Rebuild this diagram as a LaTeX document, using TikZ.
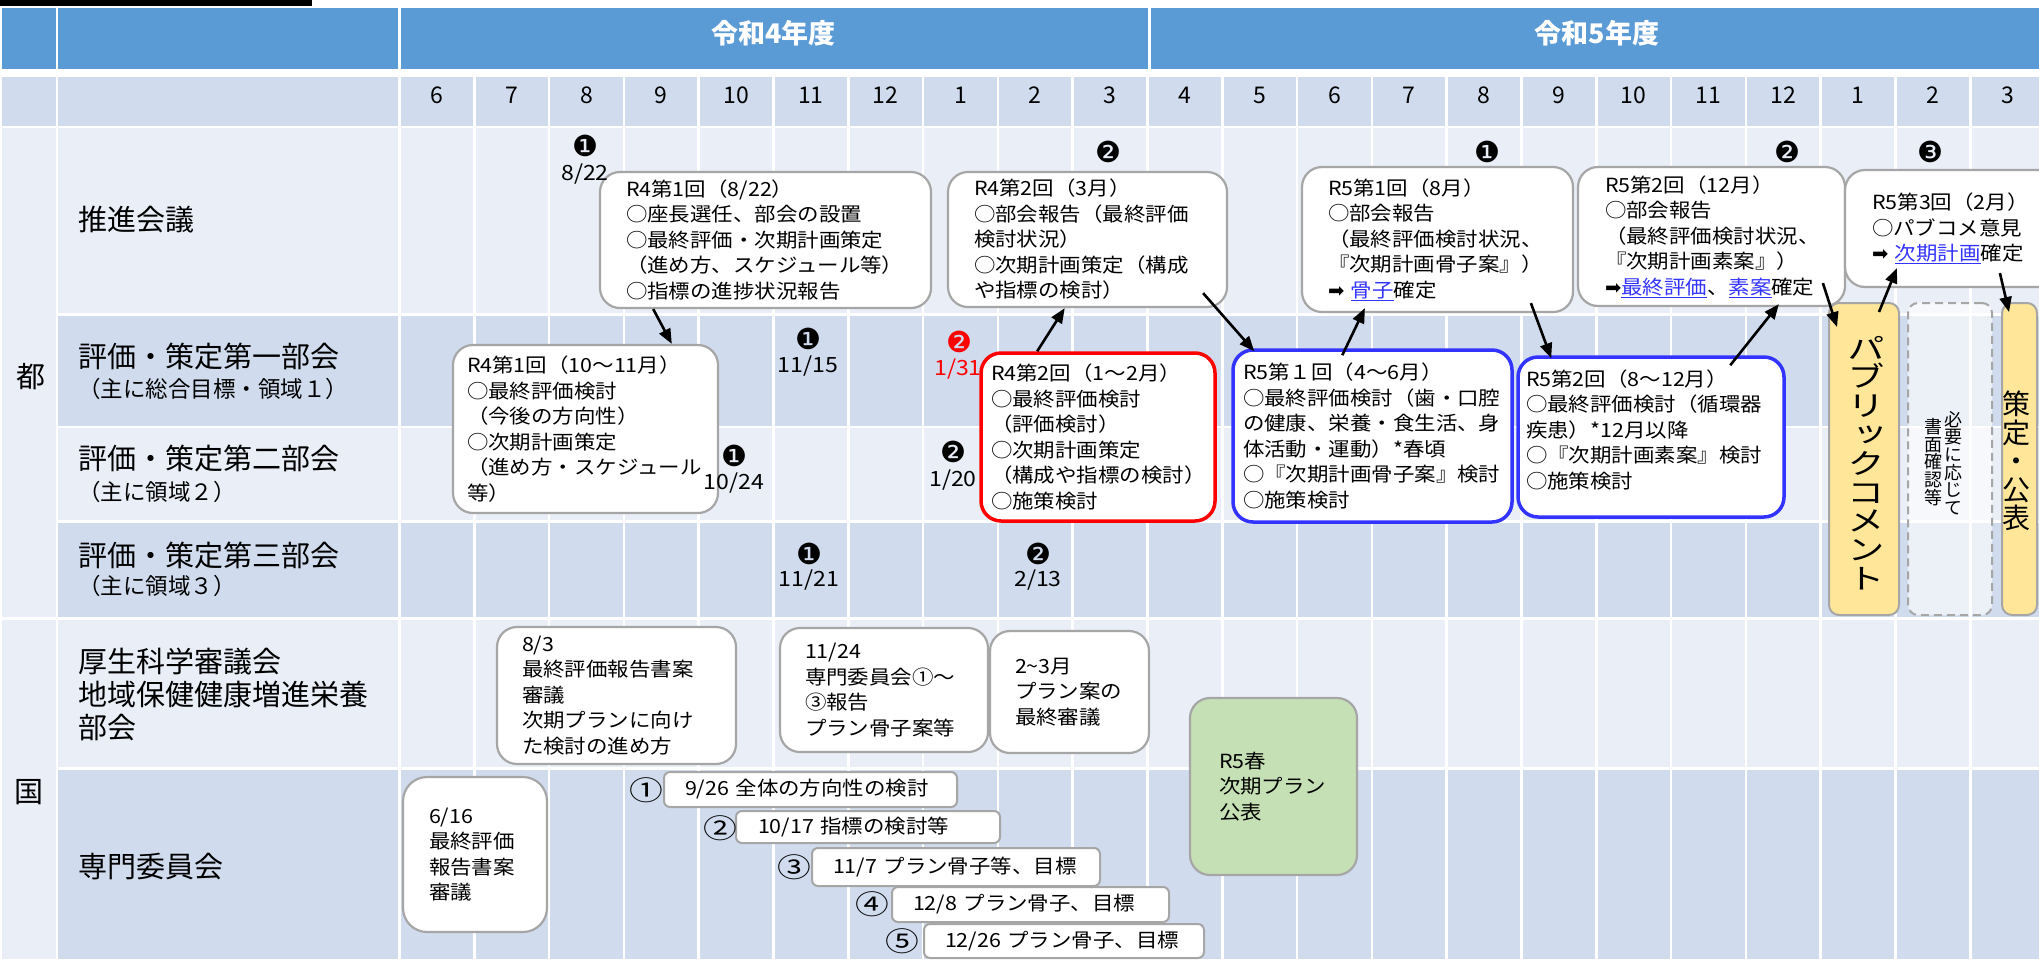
\documentclass[tikz,border=0pt]{standalone}
\usepackage{fontspec}
\setmainfont{Noto Sans CJK JP}
\newfontfamily\jpbox[FakeStretch=1.1]{Noto Sans CJK JP}
\newfontfamily\jpwide[FakeStretch=1.25]{Noto Sans CJK JP}
\newfontfamily\jpvert[RawFeature=+vert]{Noto Sans CJK JP}
\newfontfamily\jpvertw[RawFeature=+vert,FakeStretch=1.3]{Noto Sans CJK JP}
\newfontfamily\dejavu{DejaVu Sans}
\usetikzlibrary{arrows.meta,calc}
\definecolor{hdr}{HTML}{5B9BD5}
\definecolor{bandD}{HTML}{D0DCEE}
\definecolor{bandL}{HTML}{E9EEF7}
\definecolor{bgray}{HTML}{A6A6A6}
\definecolor{linkb}{HTML}{3333FF}
\definecolor{bblue}{HTML}{3333FF}
\definecolor{pyel}{HTML}{FFE699}
\definecolor{pgrn}{HTML}{C5E0B4}
\newcommand\myBox{\jpbox\fontsize{19.5}{25.5}\selectfont}
\newcommand\myLbl{\fontsize{29}{33}\selectfont}
\newcommand\mySub{\fontsize{22.5}{27}\selectfont}
\newcommand\myMon{\fontsize{23}{27}\selectfont}
\newcommand\myHdr{\fontsize{27}{30}\selectfont\bfseries}
\newcommand\myDate{\jpbox\fontsize{21}{24}\selectfont}
\newcommand\myDing{\dejavu\fontsize{29}{31}\selectfont}
\newcommand\myCirc{\jpwide\fontsize{27}{30}\selectfont}
\newcommand\lk[1]{{\color{linkb}\underline{#1}}}
\newcommand\rarr{{\dejavu ➡}}
\tikzset{
  bx/.style={draw=bgray, line width=2.2pt, fill=white, rounded corners=20pt, align=left, inner ysep=0pt, font=\myBox},
  sbx/.style={draw=bgray, line width=2pt, fill=white, rounded corners=6pt, align=left, inner ysep=0pt, font=\myBox},
  vbx/.style={draw=bgray, line width=2pt, rounded corners=10pt, inner sep=0pt},
  lbl/.style={anchor=west, inner sep=0pt, font=\myLbl, align=left},
  sublbl/.style={anchor=west, inner sep=0pt, font=\mySub},
  dt/.style={inner sep=0pt, font=\myDate},
  dg/.style={inner sep=0pt, font=\myDing},
  cn/.style={inner sep=0pt, font=\myCirc},
  arr/.style={line width=2.6pt, -{Triangle[length=15pt,width=12pt]}},
}
\begin{document}
\begin{tikzpicture}[x=1pt,y=-1pt]
\useasboundingbox (0,0) rectangle (2039,959);
\clip (0,0) rectangle (2039,959);
\fill[white] (0,0) rectangle (2039,959);
\fill[black] (0,0) rectangle (312,6);
% header row
\fill[hdr] (2,8) rectangle (56,69);
\fill[hdr] (58,8) rectangle (398,69);
\fill[hdr] (401,8) rectangle (1147.5,69);
\fill[hdr] (1150.5,8) rectangle (2045,69);
% month row
\fill[bandD] (2,77) rectangle (56,126);
\fill[bandD] (58,77) rectangle (398,126);
\foreach \i in {0,...,21}
  \fill[bandD] ({399.5+\i*74.8+1.3},77) rectangle ({399.5+(\i+1)*74.8-1.3},126);
% body rows
\foreach \t/\b/\c in {128/313/bandL,316/426/bandD,428/520/bandL,523/617/bandD,620/767/bandL,770/959/bandD}{
  \fill[\c] (58,\t) rectangle (398,\b);
  \foreach \i in {0,...,21}
    \fill[\c] ({399.5+\i*74.8+1.3},\t) rectangle ({399.5+(\i+1)*74.8-1.3},\b);
}
\fill[bandL] (2,128) rectangle (56,617);
\fill[bandL] (2,620) rectangle (56,959);

% header texts
\node[font=\myHdr, text=white, inner sep=0pt] (h4) at (773.5,33) {令和4年度};
\node[font=\myHdr, text=white, inner sep=0pt] (h5) at (1597,33) {令和5年度};
\foreach \m [count=\i from 0] in {6,7,8,9,10,11,12,1,2,3,4,5,6,7,8,9,10,11,12,1,2,3}
  \node[font=\myMon, inner sep=0pt] (m\i) at ({399.5+(\i+0.5)*74.8},95.5) {\m};

% row labels
\node[font=\myLbl, inner sep=0pt] (to) at (31,377) {都};
\node[font=\myLbl, inner sep=0pt] (kuni) at (29,792) {国};
\node[lbl] (r1) at (78,220) {推進会議};
\node[lbl] (r2) at (78,356) {評価・策定第一部会};
\node[sublbl] (r2s) at (78,389) {（主に総合目標・領域１）};
\node[lbl] (r3) at (78,458.5) {評価・策定第二部会};
\node[sublbl] (r3s) at (78,492) {（主に領域２）};
\node[lbl] (r4) at (78,555) {評価・策定第三部会};
\node[sublbl] (r4s) at (78,586) {（主に領域３）};
\node[lbl] (r5) at (78,694) {厚生科学審議会\\地域保健健康増進栄養\\部会};
\node[lbl] (r6) at (78,867) {専門委員会};

% boxes
\node[bx, minimum width=331, minimum height=136, text width=279, inner xsep=26] (b1) at (765.5,240)
 {R4第1回（8/22）\\○座長選任、部会の設置\\○最終評価・次期計画策定\\（進め方、スケジュール等）\\○指標の進捗状況報告};
\node[bx, minimum width=279, minimum height=135, text width=227, inner xsep=26] (b2) at (1087.5,239.5)
 {R4第2回（3月）\\○部会報告（最終評価\\検討状況）\\○次期計画策定（構成\\や指標の検討）};
\node[bx, minimum width=265, minimum height=168, text width=237, inner xsep=14] (b3) at (585.5,429)
 {R4第1回（10〜11月）\\○最終評価検討\\（今後の方向性）\\○次期計画策定\\（進め方・スケジュール\\等）};
\node[bx, draw=red, line width=3.5pt, minimum width=234, minimum height=168, text width=214, inner xsep=10] (b4) at (1098,437)
 {R4第2回（1〜2月）\\○最終評価検討\\（評価検討）\\○次期計画策定\\（構成や指標の検討）\\○施策検討};
\node[bx, draw=bblue, line width=3.5pt, minimum width=279, minimum height=172, text width=259, inner xsep=10] (b5) at (1372.5,436)
 {R5第１回（4〜6月）\\○最終評価検討（歯・口腔\\の健康、栄養・食生活、身\\体活動・運動）*春頃\\○『次期計画骨子案』検討\\○施策検討};
\node[bx, draw=bblue, line width=3.5pt, minimum width=266, minimum height=160, text width=250, inner xsep=8] (b6) at (1651,437)
 {R5第2回（8〜12月）\\○最終評価検討（循環器\\疾患）*12月以降\\○『次期計画素案』検討\\○施策検討\\[-9pt]\mbox{}};
\node[bx, minimum width=271, minimum height=145, text width=219, inner xsep=26] (b7) at (1437.5,239.5)
 {R5第1回（8月）\\○部会報告\\（最終評価検討状況、\\『次期計画骨子案』）\\\rarr{} \lk{骨子}確定};
\node[bx, minimum width=267, minimum height=139, text width=213, inner xsep=27] (b8) at (1711.5,236.5)
 {R5第2回（12月）\\○部会報告\\（最終評価検討状況、\\『次期計画素案』）\\\rarr\lk{最終評価}、\lk{素案}確定};
\node[bx, minimum width=225, minimum height=117, text width=171, inner xsep=27] (b9) at (1957.5,228.5)
 {R5第3回（2月）\\○パブコメ意見\\\rarr{} \lk{次期計画}確定};

\node[bx, minimum width=239, minimum height=137, text width=189, inner xsep=25] (b13) at (616.5,695.5)
 {8/3\\最終評価報告書案\\審議\\次期プランに向け\\た検討の進め方};
\node[bx, minimum width=208, minimum height=124, text width=158, inner xsep=25] (b14) at (884,690)
 {11/24\\専門委員会①〜\\③報告\\プラン骨子案等};
\node[bx, minimum width=159, minimum height=122, text width=109, inner xsep=25] (b15) at (1069.5,692)
 {2\textasciitilde3月\\プラン案の\\最終審議};
\node[bx, fill=pgrn, minimum width=167, minimum height=177, text width=109, inner xsep=29] (b16) at (1273.5,786.5)
 {R5春\\次期プラン\\公表};
\node[bx, rounded corners=24pt, minimum width=144, minimum height=155, text width=92, inner xsep=26] (b17) at (475,854.5)
 {6/16\\最終評価\\報告書案\\審議};

% expert committee rows
\node[sbx, minimum width=293, minimum height=35, text width=251, inner xsep=21] (c1) at (810.5,789.5) {9/26 全体の方向性の検討};
\node[sbx, minimum width=264, minimum height=32, text width=220, inner xsep=22] (c2) at (868,827) {10/17 指標の検討等};
\node[sbx, minimum width=288, minimum height=38, text width=246, inner xsep=21] (c3) at (956,867) {11/7 プラン骨子等、目標};
\node[sbx, minimum width=277, minimum height=35, text width=235, inner xsep=21] (c4) at (1030.5,904.5) {12/8 プラン骨子、目標};
\node[sbx, minimum width=280, minimum height=34, text width=238, inner xsep=21] (c5) at (1064,941) {12/26 プラン骨子、目標};
\node[cn] (k1) at (646,790) {①};
\node[cn] (k2) at (720,828) {②};
\node[cn] (k3) at (794,867) {③};
\node[cn] (k4) at (872,904) {④};
\node[cn] (k5) at (902,941) {⑤};

% meeting markers (drawn over the boxes)
\node[dg] (n1) at (585,146) {❶};
\node[dt] (d1) at (585,174) {8/22};
\node[dg] (n2) at (1108,152) {❷};
\node[dg] (n3) at (1487,152) {❶};
\node[dg] (n4) at (1787,152) {❷};
\node[dg] (n5) at (1930,152) {❸};
\node[dg] (n6) at (808,339) {❶};
\node[dt] (d6) at (808,366) {11/15};
\node[dg, text=red] (n7) at (959,342) {❷};
\node[dt, text=red] (d7) at (958,369) {1/31};
\node[dg] (n8) at (734,456) {❶};
\node[dt] (d8) at (734,483) {10/24};
\node[dg] (n9) at (953,452) {❷};
\node[dt] (d9) at (953,480) {1/20};
\node[dg] (n10) at (809,554) {❶};
\node[dt] (d10) at (809,580) {11/21};
\node[dg] (n11) at (1038,554) {❷};
\node[dt] (d11) at (1038,580) {2/13};

% vertical boxes
\node[vbx, fill=pyel, minimum width=70, minimum height=312] (b10) at (1864,459) {};
\node[inner sep=0pt, align=center, font=\jpvertw\fontsize{29}{28.8}\selectfont] (t10) at (1866,463)
 {パ\\ブ\\リ\\ッ\\ク\\コ\\メ\\ン\\ト};
\node[vbx, dash pattern=on 8pt off 5pt, fill=white, fill opacity=0.6, minimum width=84, minimum height=312] (b11) at (1950,459) {};
\node[inner sep=0pt, align=center, font=\jpvert\fontsize{18}{17.6}\selectfont] (t11a) at (1953,463)
 {必\\要\\に\\応\\じ\\て};
\node[inner sep=0pt, align=center, font=\jpvert\fontsize{18}{17.6}\selectfont] (t11b) at (1933,462)
 {書\\面\\確\\認\\等};
\node[vbx, fill=pyel, minimum width=35, minimum height=312] (b12) at (2019.5,459) {};
\node[inner sep=0pt, align=center, font=\jpvert\fontsize{28}{28.4}\selectfont] (t12) at (2016,461)
 {策\\定\\・\\公\\表};

% arrows
\draw[arr] ($(b1.south west)!0.163!(b1.south east)$) -- ($(b3.north west)!0.823!(b3.north east)$);
\draw[arr] ($(b4.north west)!0.244!(b4.north east)$) -- ($(b2.south west)!0.419!(b2.south east)$);
\draw[arr] ($(b2.south east)+(-25,-15)$) -- ($(b5.north west)+(23,3)$);
\draw[arr] ($(b5.north west)+(111,7)$) -- ($(b7.south west)+(64,-5)$);
\draw[arr] ($(b7.south west)+(230,-10)$) -- ($(b6.north west)+(35,3)$);
\draw[arr] ($(b6.north west)+(214,10)$) -- ($(b8.south west)+(202,-3)$);
\draw[arr] ($(b8.south west)+(246,-24)$) -- ($(b10.north west)+(9,25)$);
\draw[arr] ($(b10.north west)+(51,10)$) -- ($(b9.south west)+(53,-20)$);
\draw[arr] ($(b9.south west)+(156,-15)$) -- ($(b12.north west)+(8,10)$);
\end{tikzpicture}
\end{document}
